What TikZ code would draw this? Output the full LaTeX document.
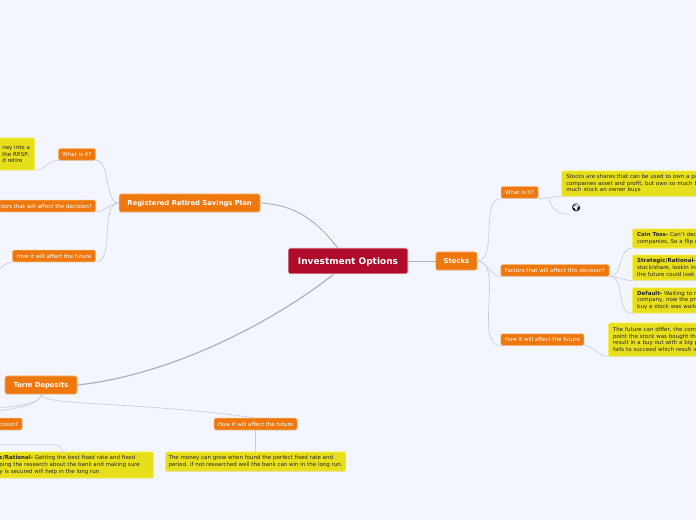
\documentclass[tikz,border=0pt]{standalone}
\usepackage{fontspec}
\setmainfont{DejaVu Sans}
\newfontfamily\emojifont{Noto Emoji}
\usepackage{xcolor}
\usepackage{tikz}
\usetikzlibrary{shadows}

\definecolor{pagebg}{HTML}{F3F6FF}
\definecolor{rootred}{HTML}{B00B2A}
\definecolor{branchorange}{HTML}{EF780E}
\definecolor{leafyellow}{HTML}{E8DF1C}
\definecolor{linegray}{HTML}{CBCFDC}
\definecolor{maingray}{HTML}{B0B3BA}

\begin{document}
\begin{tikzpicture}[
    softshadow/.style={drop shadow={shadow xshift=0pt, shadow yshift=-0.5pt, fill=black, opacity=0.12}},
    rootbox/.style={draw=white, rounded corners=1.5pt, fill=rootred, text=white, inner sep=0pt, minimum width=3cm, minimum height=0.65cm, text depth=0pt, font=\fontsize{6.4}{8}\selectfont\bfseries},
    mainbox/.style={draw=orange!60, rounded corners=1.5pt, fill=branchorange, text=white, inner sep=0pt, minimum height=0.45cm, text depth=0pt, font=\fontsize{4.85}{6}\selectfont\bfseries, softshadow},
    subbox/.style={draw=orange!60, rounded corners=1pt, fill=branchorange, text=white, inner ysep=0pt, inner xsep=0.1cm, minimum height=0.29cm, text depth=0pt, font=\fontsize{3.92}{4.5}\selectfont, softshadow},
    leafbox/.style={draw=yellow!70!white, rounded corners=1pt, fill=leafyellow, text=black!85, inner ysep=0pt, inner xsep=0.12cm, align=left, font=\fontsize{3.92}{4.75}\selectfont, softshadow},
    cutleaf/.style={leafbox, anchor=west, text width=6cm},
    conn/.style={linegray, line width=0.5pt},
    mainconn/.style={maingray, line width=0.7pt},
]

\clip (0, 0) rectangle (17.4, -13);
\fill[pagebg] (0, 0) rectangle (17.4, -13);

% Centre and main topics
\node[rootbox] (root) at (8.7, -6.525) {Investment Options};
\node[mainbox, minimum width=1.03cm] (stocks) at (11.41, -6.525) {Stocks};
\node[mainbox, minimum width=3.52cm] (rrsp) at (4.74, -5.075) {Registered Retired Savings Plan};
\node[mainbox, minimum width=1.8cm] (term) at (1.025, -9.625) {Term Deposits};

% Stocks side
\node[subbox] (stWhat) at (12.99, -4.81) {What is it?};
\node[subbox] (stFactors) at (13.875, -6.76) {Factors that will affect this decision?};
\node[subbox] (stHow) at (13.56, -8.49) {How it will affect the future};
\node[cutleaf, minimum height=0.63cm] (stLeaf) at (14.03, -4.59) {Stocks are shares that can be used to own a pa\\companies asset and profit, but own so much b\\much stock an owner buys};
\node[inner sep=1.5pt, font=\emojifont\fontsize{5.5}{6}\selectfont] (globe) at (14.41, -5.2) {🌍};
\node[cutleaf, minimum height=0.48cm] (stCoin) at (15.8, -5.96) {\textbf{Coin Toss-} Can't dec\\companies, So a flip o};
\node[cutleaf, minimum height=0.63cm] (stStrategic) at (15.8, -6.69) {\textbf{Strategic/Rational-}\\stock/share, lookin in\\the future could look};
\node[cutleaf, minimum height=0.63cm] (stDefault) at (15.8, -7.51) {\textbf{Default-} Waiting to m\\company, now the pri\\buy a stock was waite};
\node[cutleaf, minimum height=0.83cm] (stFuture) at (15.2, -8.49) {The future can differ, the comp\\point the stock was bought the\\result in a buy out with a big p\\fails to succeed which result in};

% Savings plan side
\node[subbox] (rsWhat) at (1.925, -3.86) {What is it?};
\node[subbox, anchor=east] (rsFactors) at (2.4, -5.15) {ctors that will affect the decision?};
\node[subbox] (rsHow) at (1.35, -6.4) {How it will affect the future};
\node[leafbox, anchor=east, minimum height=0.8cm] (rsLeaf) at (0.875, -3.85) {ney into a\\the RRSP,\\d retire};
\coordinate (rsOff) at (-0.1, -6.75);

% Term deposits side
\node[subbox, anchor=east] (tdFactors) at (0.56, -10.6) {cision?};
\node[subbox] (tdHow) at (6.39, -10.6) {How it will affect the future};
\node[leafbox, anchor=east, inner xsep=0.35cm, minimum height=0.65cm] (tdLeaf) at (3.85, -11.625) {\textbf{c/Rational-} Getting the best fixed rate and fixed\\oing the research about the bank and making sure\\y is secured will help in the long run};
\node[leafbox, inner xsep=0.08cm, minimum height=0.48cm] (tdFuture) at (6.39, -11.54) {The money can grow when found the perfect fixed rate and\\period. if not researched well the bank can win in the long run.};
\coordinate (tdOffA) at (-0.1, -10.2);
\coordinate (tdOffB) at (-0.1, -10.27);
\coordinate (tdOffC) at (-0.3, -11.12);

% Connectors from the centre
\draw[mainconn] (root) -- (stocks);
\draw[mainconn] (rrsp.east) to[out=-3, in=128] (root.128);
\draw[mainconn, line width=0.9pt] (term.east) to[out=6, in=218, looseness=0.8] (root.223);

% Connectors on the stocks side
\foreach \leaf in {stWhat, stFactors, stHow} {
    \draw[conn] (stocks.east) to[out=0, in=180, looseness=0.8] (\leaf.south west);
}
\draw[conn] (stWhat.south east) to[out=0, in=180] (stLeaf.south west);
\draw[conn] (stWhat.south east) ++(0.27, 0) coordinate (stFork);
\draw[conn] (stFork) to[out=-85, in=180] (globe.south west);
\foreach \leaf in {stCoin, stStrategic, stDefault} {
    \draw[conn] (stFactors.south east) to[out=0, in=180] (\leaf.south west);
}
\draw[conn] (stHow.south east) to[out=0, in=180] (stFuture.south west);

% Connectors on the savings plan side
\foreach \leaf in {rsWhat, rsFactors, rsHow} {
    \draw[conn] (rrsp.west) to[out=180, in=0, looseness=0.8] (\leaf.south east);
}
\draw[conn] (rsWhat.south west) to[out=180, in=0] (rsLeaf.south east);
\draw[conn] (rsHow.south west) to[out=180, in=10] (rsOff);

% Connectors on the term deposits side
\draw[conn] (term.south) to[out=-85, in=172, out distance=0.3cm, in distance=3cm] (tdHow.north);
\draw[conn] (tdHow.south) -- (tdFuture.north);
\draw[conn] (term.south) to[out=-90, in=5, out distance=0.25cm, in distance=0.5cm] (tdOffA);
\draw[conn] (term.south) to[out=-90, in=5, out distance=0.25cm, in distance=0.5cm] (tdOffB);
\draw[conn, rounded corners=0.2cm] (tdOffC) -| (tdLeaf.118);

\end{tikzpicture}
\end{document}
